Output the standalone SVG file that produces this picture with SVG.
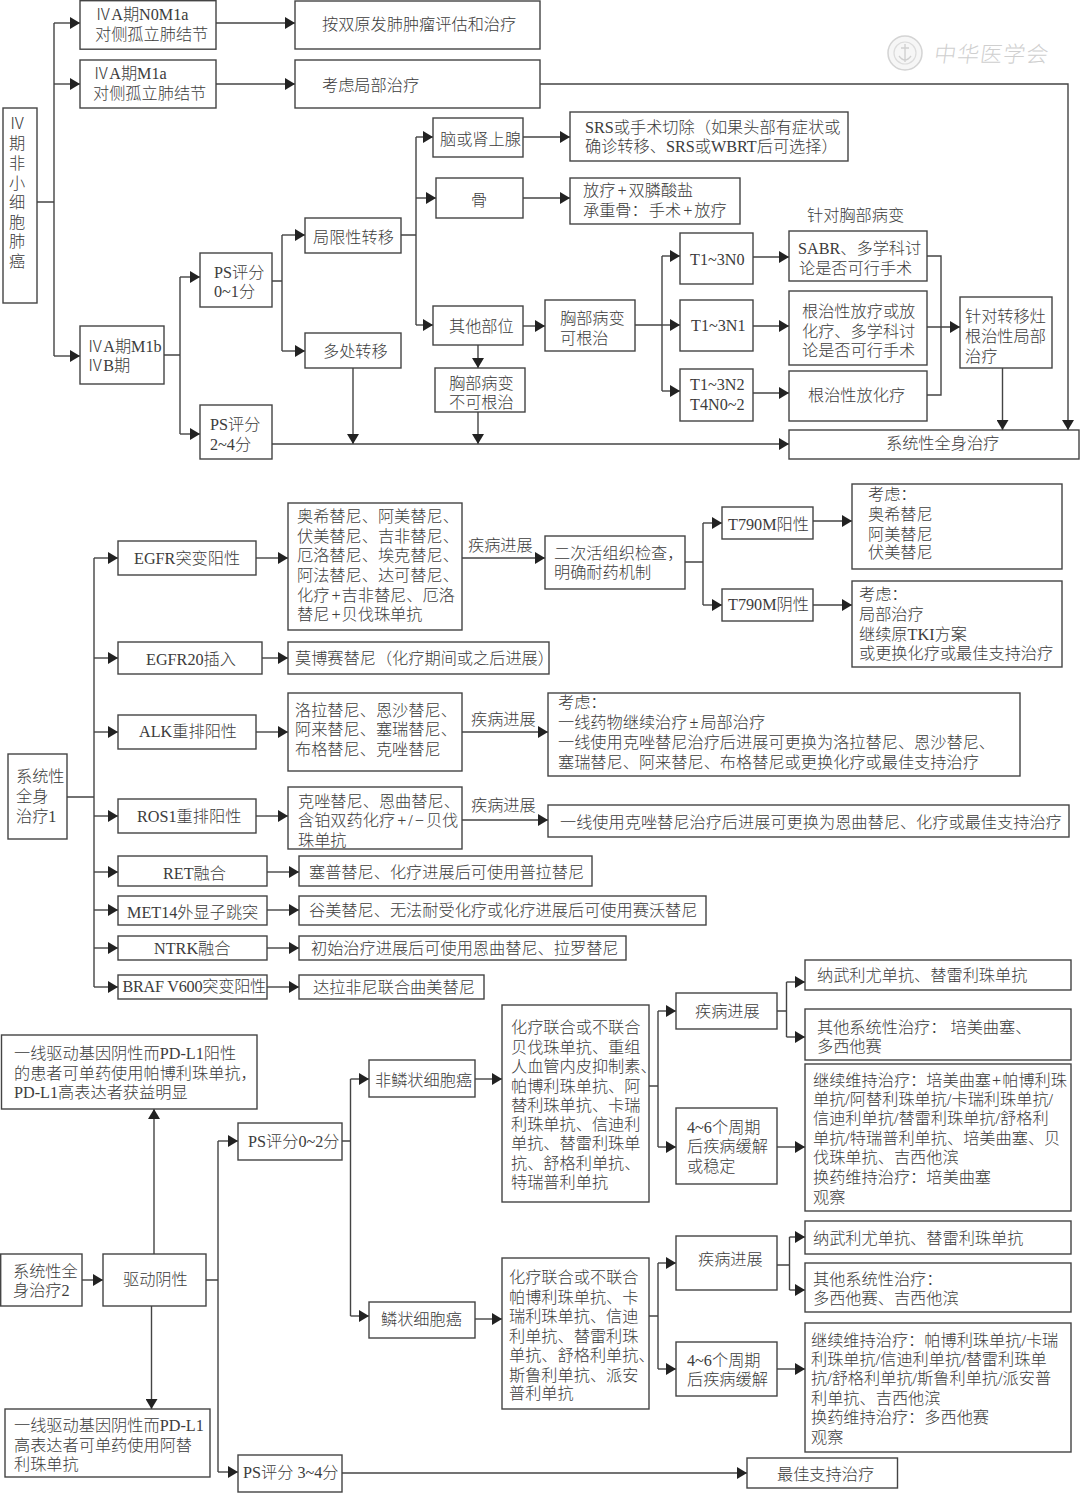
<svg xmlns="http://www.w3.org/2000/svg" width="1080" height="1493" viewBox="0 0 1080 1493">
<style>
.b{fill:#fff;stroke:#444;stroke-width:1.4}
.t{font-family:"Liberation Serif","Noto Sans CJK SC",serif;font-size:16.2px;fill:#3c3c3c;font-weight:300}
.c{fill:none;stroke:#444;stroke-width:1.4}
.a{fill:none;stroke:#444;stroke-width:1.4;marker-end:url(#ah)}
.w{font-family:"Noto Sans CJK SC",sans-serif;font-size:22px;fill:#cfcfcf;font-weight:300;letter-spacing:1px}
</style>
<defs><marker id="ah" markerUnits="userSpaceOnUse" markerWidth="11" markerHeight="12" refX="10" refY="6" orient="auto"><path d="M0 0L10 6L0 12z" fill="#222"/></marker></defs>
<rect width="1080" height="1493" fill="#fff"/>
<g id="watermark"><circle cx="905" cy="53" r="17" fill="#f6f6f6" stroke="#d4d4d4" stroke-width="1.5"/><circle cx="905" cy="53" r="11" fill="none" stroke="#dcdcdc" stroke-width="1.2"/><path d="M905 44V62M899 56Q905 64 911 56M901 48H909" fill="none" stroke="#d0d0d0" stroke-width="1.4"/><text class="w" x="934" y="62" transform="skewX(-8) translate(8 0)">中华医学会</text></g>
<g id="connectors">
<path class="c" d="M37 202H54M54 23V356"/><path class="a" d="M54 23H80"/><path class="a" d="M54 84H80"/><path class="a" d="M54 356H80"/>
<path class="a" d="M216 23H295"/><path class="a" d="M216 84H295"/>
<path class="a" d="M540 84H1068V430"/>
<path class="c" d="M164 355H180M180 277V434"/><path class="a" d="M180 277H200"/><path class="a" d="M180 434H200"/>
<path class="c" d="M272 281H282M282 235V351"/><path class="a" d="M282 235H305"/><path class="a" d="M282 351H305"/>
<path class="c" d="M401 235H416M416 137V325"/><path class="a" d="M416 137H433"/><path class="a" d="M416 198H436"/><path class="a" d="M416 325H433"/>
<path class="a" d="M523 137H570"/><path class="a" d="M523 198H570"/><path class="a" d="M523 326H545"/>
<path class="a" d="M478 345V368"/><path class="a" d="M478 412V444"/><path class="a" d="M353 368V444"/>
<path class="a" d="M272 444H789"/>
<path class="c" d="M635 325H662M662 256V391"/><path class="a" d="M662 256H680"/><path class="a" d="M662 325H680"/><path class="a" d="M662 391H680"/>
<path class="a" d="M753 257H789"/><path class="a" d="M753 326H789"/><path class="a" d="M753 393H789"/>
<path class="c" d="M927 256H941V395H927"/><path class="a" d="M927 327H960"/>
<path class="a" d="M1002.500 368V430"/>
<path class="c" d="M67 797H94M94 558V987"/>
<path class="a" d="M94 558H118"/><path class="a" d="M94 658H118"/><path class="a" d="M94 732H118"/><path class="a" d="M94 816H118"/><path class="a" d="M94 872H118"/><path class="a" d="M94 910H118"/><path class="a" d="M94 948H118"/><path class="a" d="M94 987H118"/>
<path class="a" d="M256 558H288"/><path class="a" d="M262 658H288"/><path class="a" d="M256 732H288"/><path class="a" d="M256 816H288"/>
<path class="a" d="M267 872H299"/><path class="a" d="M267 910H299"/><path class="a" d="M267 948H299"/><path class="a" d="M267 987H299"/>
<path class="a" d="M462 558H545"/><path class="a" d="M462 732H548"/><path class="a" d="M462 820H548"/>
<path class="c" d="M685 562H703M703 523V605"/><path class="a" d="M703 523H722"/><path class="a" d="M703 605H722"/>
<path class="a" d="M813 521H852"/><path class="a" d="M813 605H852"/>
<path class="a" d="M82 1280H103"/><path class="a" d="M154 1254V1109"/><path class="a" d="M151.500 1306V1409"/>
<path class="c" d="M206 1280H218M218 1141V1472"/><path class="a" d="M218 1141H238"/><path class="a" d="M218 1472H238"/>
<path class="c" d="M342 1141H350.500M350.500 1079V1316"/><path class="a" d="M350.500 1079H369"/><path class="a" d="M350.500 1316H369"/>
<path class="a" d="M475 1079H502"/><path class="a" d="M475 1319H502"/>
<path class="c" d="M649 1086H658M658 1011V1147"/><path class="a" d="M658 1011H676"/><path class="a" d="M658 1147H676"/>
<path class="c" d="M777 1011H786.500M786.500 982V1037"/><path class="a" d="M786.500 982H805"/><path class="a" d="M786.500 1037H805"/>
<path class="a" d="M777 1147H805"/>
<path class="c" d="M649 1316H658M658 1263V1369"/><path class="a" d="M658 1263H676"/><path class="a" d="M658 1369H676"/>
<path class="c" d="M777 1265H789.500M789.500 1237V1290"/><path class="a" d="M789.500 1237H805"/><path class="a" d="M789.500 1290H805"/>
<path class="a" d="M777 1369H805"/>
<path class="a" d="M342 1473H747"/>
</g>
<g id="n01"><rect class="b" x="3" y="108" width="34" height="195"/><text class="t" text-anchor="middle"><tspan x="17" y="129">Ⅳ</tspan><tspan x="17" y="149">期</tspan><tspan x="17" y="169">非</tspan><tspan x="17" y="189">小</tspan><tspan x="17" y="208">细</tspan><tspan x="17" y="228">胞</tspan><tspan x="17" y="247">肺</tspan><tspan x="17" y="267">癌</tspan></text></g>
<g id="n02"><rect class="b" x="80" y="0.700" width="136" height="48.500"/><text class="t"><tspan x="95" y="20">ⅣA期N0M1a</tspan><tspan x="95" y="40">对侧孤立肺结节</tspan></text></g>
<g id="n03"><rect class="b" x="80" y="60" width="136" height="48"/><text class="t"><tspan x="93" y="79">ⅣA期M1a</tspan><tspan x="93" y="99">对侧孤立肺结节</tspan></text></g>
<g id="n04"><rect class="b" x="295" y="1" width="245" height="48"/><text class="t" x="322" y="30">按双原发肺肿瘤评估和治疗</text></g>
<g id="n05"><rect class="b" x="295" y="60" width="245" height="48"/><text class="t" x="322" y="91">考虑局部治疗</text></g>
<g id="n06"><rect class="b" x="80" y="326" width="84" height="58"/><text class="t"><tspan x="87" y="352">ⅣA期M1b</tspan><tspan x="87" y="371">ⅣB期</tspan></text></g>
<g id="n07"><rect class="b" x="200" y="253" width="72" height="54"/><text class="t"><tspan x="214" y="278">PS评分</tspan><tspan x="214" y="297">0~1分</tspan></text></g>
<g id="n08"><rect class="b" x="200" y="405" width="72" height="54"/><text class="t"><tspan x="210" y="430">PS评分</tspan><tspan x="210" y="450">2~4分</tspan></text></g>
<g id="n09"><rect class="b" x="305" y="218" width="96" height="35"/><text class="t" x="313" y="243">局限性转移</text></g>
<g id="n10"><rect class="b" x="305" y="333" width="96" height="35"/><text class="t" x="323" y="357">多处转移</text></g>
<g id="n11"><rect class="b" x="433" y="118" width="90" height="39"/><text class="t" x="440" y="145">脑或肾上腺</text></g>
<g id="n12"><rect class="b" x="436" y="178" width="87" height="40"/><text class="t" x="471" y="206">骨</text></g>
<g id="n13"><rect class="b" x="433" y="306" width="90" height="39"/><text class="t" x="449" y="332">其他部位</text></g>
<g id="n14"><rect class="b" x="435" y="368" width="90" height="44"/><text class="t"><tspan x="449" y="389">胸部病变</tspan><tspan x="449" y="408">不可根治</tspan></text></g>
<g id="n15"><rect class="b" x="570" y="112" width="278" height="49"/><text class="t"><tspan x="585" y="133">SRS或手术切除（如果头部有症状或</tspan><tspan x="585" y="152">确诊转移、SRS或WBRT后可选择）</tspan></text></g>
<g id="n16"><rect class="b" x="570" y="178" width="170" height="46"/><text class="t"><tspan x="583" y="196">放疗<tspan dx="2">+</tspan><tspan dx="2">双膦酸盐</tspan></tspan><tspan x="583" y="216">承重骨：<tspan dx="1">手术</tspan><tspan dx="2">+</tspan><tspan dx="2">放疗</tspan></tspan></text></g>
<g id="n17"><text class="t" x="807" y="221">针对胸部病变</text></g>
<g id="n18"><rect class="b" x="545" y="300" width="90" height="51"/><text class="t"><tspan x="560" y="324">胸部病变</tspan><tspan x="560" y="344">可根治</tspan></text></g>
<g id="n19"><rect class="b" x="680" y="233" width="73" height="51"/><text class="t" x="690" y="265">T1~3N0</text></g>
<g id="n20"><rect class="b" x="680" y="300" width="73" height="51"/><text class="t" x="691" y="331">T1~3N1</text></g>
<g id="n21"><rect class="b" x="680" y="369" width="73" height="52"/><text class="t"><tspan x="690" y="390">T1~3N2</tspan><tspan x="690" y="410">T4N0~2</tspan></text></g>
<g id="n22"><rect class="b" x="789" y="231" width="138" height="50"/><text class="t"><tspan x="798" y="254">SABR、多学科讨</tspan><tspan x="799" y="274">论是否可行手术</tspan></text></g>
<g id="n23"><rect class="b" x="789" y="291" width="138" height="74"/><text class="t"><tspan x="802" y="317">根治性放疗或放</tspan><tspan x="802" y="337">化疗、多学科讨</tspan><tspan x="802" y="356">论是否可行手术</tspan></text></g>
<g id="n24"><rect class="b" x="789" y="371" width="138" height="50"/><text class="t" x="808" y="401">根治性放化疗</text></g>
<g id="n25"><rect class="b" x="960" y="297" width="92" height="71"/><text class="t"><tspan x="965" y="322">针对转移灶</tspan><tspan x="965" y="342">根治性局部</tspan><tspan x="965" y="362">治疗</tspan></text></g>
<g id="n26"><rect class="b" x="789" y="430" width="290" height="29"/><text class="t" x="886" y="449">系统性全身治疗</text></g>
<g id="n27"><rect class="b" x="8" y="754" width="59" height="85"/><text class="t"><tspan x="16" y="782">系统性</tspan><tspan x="16" y="802">全身</tspan><tspan x="16" y="822">治疗1</tspan></text></g>
<g id="n28"><rect class="b" x="118" y="541" width="138" height="34"/><text class="t" x="134" y="564">EGFR突变阳性</text></g>
<g id="n29"><rect class="b" x="288" y="503" width="174" height="127"/><text class="t"><tspan x="297" y="522">奥希替尼、阿美替尼、</tspan><tspan x="297" y="542">伏美替尼、吉非替尼、</tspan><tspan x="297" y="561">厄洛替尼、埃克替尼、</tspan><tspan x="297" y="581">阿法替尼、达可替尼、</tspan><tspan x="297" y="601">化疗<tspan dx="2">+</tspan><tspan dx="1">吉非替尼、厄洛</tspan></tspan><tspan x="297" y="620">替尼<tspan dx="2">+</tspan><tspan dx="1">贝伐珠单抗</tspan></tspan></text></g>
<g id="n30"><text class="t" x="468" y="551">疾病进展</text></g>
<g id="n31"><rect class="b" x="545" y="536" width="140" height="53"/><text class="t"><tspan x="554" y="559">二次活组织检查，</tspan><tspan x="554" y="578">明确耐药机制</tspan></text></g>
<g id="n32"><rect class="b" x="722" y="507" width="91" height="32"/><text class="t" x="728" y="530">T790M阳性</text></g>
<g id="n33"><rect class="b" x="722" y="589" width="91" height="32"/><text class="t" x="728" y="610">T790M阴性</text></g>
<g id="n34"><rect class="b" x="852" y="484" width="210" height="85"/><text class="t"><tspan x="868" y="500">考虑：</tspan><tspan x="868" y="520">奥希替尼</tspan><tspan x="868" y="540">阿美替尼</tspan><tspan x="868" y="558">伏美替尼</tspan></text></g>
<g id="n35"><rect class="b" x="852" y="581" width="210" height="86"/><text class="t"><tspan x="859" y="600">考虑：</tspan><tspan x="859" y="620">局部治疗</tspan><tspan x="859" y="640">继续原TKI方案</tspan><tspan x="859" y="659">或更换化疗或最佳支持治疗</tspan></text></g>
<g id="n36"><rect class="b" x="118" y="642" width="144" height="32"/><text class="t" x="146" y="665">EGFR20插入</text></g>
<g id="n37"><rect class="b" x="288" y="642" width="261" height="32"/><text class="t" x="295" y="664">莫博赛替尼（化疗期间或之后进展）</text></g>
<g id="n38"><rect class="b" x="118" y="715" width="138" height="34"/><text class="t" x="139" y="737">ALK重排阳性</text></g>
<g id="n39"><rect class="b" x="288" y="693" width="174" height="78"/><text class="t"><tspan x="295" y="716">洛拉替尼、恩沙替尼、</tspan><tspan x="295" y="735">阿来替尼、塞瑞替尼、</tspan><tspan x="295" y="755">布格替尼、克唑替尼</tspan></text></g>
<g id="n40"><text class="t" x="471" y="725">疾病进展</text></g>
<g id="n41"><rect class="b" x="548" y="693" width="472" height="83"/><text class="t"><tspan x="558" y="708">考虑：</tspan><tspan x="558" y="728">一线药物继续治疗<tspan dx="2">±</tspan><tspan dx="2">局部治疗</tspan></tspan><tspan x="558" y="748">一线使用克唑替尼治疗后进展可更换为洛拉替尼、恩沙替尼、</tspan><tspan x="558" y="768">塞瑞替尼、阿来替尼、布格替尼或更换化疗或最佳支持治疗</tspan></text></g>
<g id="n42"><rect class="b" x="118" y="799" width="138" height="34"/><text class="t" x="137" y="822">ROS1重排阳性</text></g>
<g id="n43"><rect class="b" x="288" y="787" width="174" height="62"/><text class="t"><tspan x="298" y="807">克唑替尼、恩曲替尼、</tspan><tspan x="298" y="826">含铂双药化疗<tspan dx="2">+</tspan><tspan dx="2">/</tspan><tspan dx="2">−</tspan><tspan dx="2">贝伐</tspan></tspan><tspan x="298" y="846">珠单抗</tspan></text></g>
<g id="n44"><text class="t" x="471" y="811">疾病进展</text></g>
<g id="n45"><rect class="b" x="548" y="805" width="521" height="32"/><text class="t" x="560" y="828">一线使用克唑替尼治疗后进展可更换为恩曲替尼、化疗或最佳支持治疗</text></g>
<g id="n46"><rect class="b" x="118" y="856" width="149" height="30"/><text class="t" x="163" y="879">RET融合</text></g>
<g id="n47"><rect class="b" x="299" y="856" width="293" height="30"/><text class="t" x="309" y="878">塞普替尼、化疗进展后可使用普拉替尼</text></g>
<g id="n48"><rect class="b" x="118" y="896" width="149" height="29"/><text class="t" x="127" y="918">MET14外显子跳突</text></g>
<g id="n49"><rect class="b" x="299" y="896" width="407" height="29"/><text class="t" x="309" y="916">谷美替尼、无法耐受化疗或化疗进展后可使用赛沃替尼</text></g>
<g id="n50"><rect class="b" x="118" y="936" width="149" height="24"/><text class="t" x="154" y="954">NTRK融合</text></g>
<g id="n51"><rect class="b" x="299" y="936" width="327" height="24"/><text class="t" x="311" y="954">初始治疗进展后可使用恩曲替尼、拉罗替尼</text></g>
<g id="n52"><rect class="b" x="118" y="975" width="149" height="24"/><text class="t" x="122.500" y="992" style="letter-spacing:-.25px">BRAF V600突变阳性</text></g>
<g id="n53"><rect class="b" x="299" y="975" width="185" height="24"/><text class="t" x="313" y="993">达拉非尼联合曲美替尼</text></g>
<g id="n54"><rect class="b" x="1.500" y="1035" width="255.500" height="74"/><text class="t"><tspan x="14" y="1059">一线驱动基因阴性而PD-L1阳性</tspan><tspan x="14" y="1079">的患者可单药使用帕博利珠单抗，</tspan><tspan x="14" y="1098">PD-L1高表达者获益明显</tspan></text></g>
<g id="n55"><rect class="b" x="0.700" y="1254" width="81.300" height="52"/><text class="t"><tspan x="13" y="1277">系统性全</tspan><tspan x="13" y="1296">身治疗2</tspan></text></g>
<g id="n56"><rect class="b" x="103" y="1254" width="103" height="52"/><text class="t" x="123" y="1285">驱动阴性</text></g>
<g id="n57"><rect class="b" x="5" y="1409" width="205" height="68"/><text class="t"><tspan x="14" y="1431">一线驱动基因阴性而PD-L1</tspan><tspan x="14" y="1451">高表达者可单药使用阿替</tspan><tspan x="14" y="1470">利珠单抗</tspan></text></g>
<g id="n58"><rect class="b" x="238" y="1123" width="104" height="37"/><text class="t" x="248" y="1147">PS评分0~2分</text></g>
<g id="n59"><rect class="b" x="238" y="1455" width="104" height="37"/><text class="t" x="243" y="1478">PS评分 3~4分</text></g>
<g id="n60"><rect class="b" x="369" y="1060" width="106" height="37"/><text class="t" x="375" y="1086">非鳞状细胞癌</text></g>
<g id="n61"><rect class="b" x="369" y="1302" width="106" height="36"/><text class="t" x="381" y="1325">鳞状细胞癌</text></g>
<g id="n62"><rect class="b" x="502" y="1005" width="147" height="197"/><text class="t"><tspan x="511" y="1033">化疗联合或不联合</tspan><tspan x="511" y="1053">贝伐珠单抗、重组</tspan><tspan x="511" y="1072">人血管内皮抑制素、</tspan><tspan x="511" y="1092">帕博利珠单抗、阿</tspan><tspan x="511" y="1111">替利珠单抗、卡瑞</tspan><tspan x="511" y="1130">利珠单抗、信迪利</tspan><tspan x="511" y="1149">单抗、替雷利珠单</tspan><tspan x="511" y="1169">抗、舒格利单抗、</tspan><tspan x="511" y="1188">特瑞普利单抗</tspan></text></g>
<g id="n63"><rect class="b" x="676" y="993" width="101" height="36"/><text class="t" x="695" y="1017">疾病进展</text></g>
<g id="n64"><rect class="b" x="676" y="1108" width="101" height="76"/><text class="t"><tspan x="687" y="1133">4~6个周期</tspan><tspan x="687" y="1152">后疾病缓解</tspan><tspan x="687" y="1172">或稳定</tspan></text></g>
<g id="n65"><rect class="b" x="805" y="960" width="266" height="30"/><text class="t" x="817" y="981">纳武利尤单抗、替雷利珠单抗</text></g>
<g id="n66"><rect class="b" x="805" y="1009" width="266" height="51"/><text class="t"><tspan x="817" y="1033">其他系统性治疗：<tspan dx="4">培美曲塞、</tspan></tspan><tspan x="817" y="1052">多西他赛</tspan></text></g>
<g id="n67"><rect class="b" x="805" y="1064" width="266" height="147"/><text class="t"><tspan x="813" y="1086">继续维持治疗：培美曲塞<tspan dx="1">+</tspan><tspan dx="1">帕博利珠</tspan></tspan><tspan x="813" y="1105">单抗/阿替利珠单抗/卡瑞利珠单抗/</tspan><tspan x="813" y="1124">信迪利单抗/替雷利珠单抗/舒格利</tspan><tspan x="813" y="1144">单抗/特瑞普利单抗、培美曲塞、贝</tspan><tspan x="813" y="1163">伐珠单抗、吉西他滨</tspan><tspan x="813" y="1183">换药维持治疗：培美曲塞</tspan><tspan x="813" y="1203">观察</tspan></text></g>
<g id="n68"><rect class="b" x="502" y="1258" width="147" height="151"/><text class="t"><tspan x="509" y="1283">化疗联合或不联合</tspan><tspan x="509" y="1303">帕博利珠单抗、卡</tspan><tspan x="509" y="1322">瑞利珠单抗、信迪</tspan><tspan x="509" y="1342">利单抗、替雷利珠</tspan><tspan x="509" y="1361">单抗、舒格利单抗、</tspan><tspan x="509" y="1381">斯鲁利单抗、派安</tspan><tspan x="509" y="1399">普利单抗</tspan></text></g>
<g id="n69"><rect class="b" x="676" y="1236" width="101" height="54"/><text class="t" x="698" y="1265">疾病进展</text></g>
<g id="n70"><rect class="b" x="676" y="1342" width="101" height="54"/><text class="t"><tspan x="687" y="1366">4~6个周期</tspan><tspan x="687" y="1385">后疾病缓解</tspan></text></g>
<g id="n71"><rect class="b" x="805" y="1221" width="266" height="33"/><text class="t" x="813" y="1244">纳武利尤单抗、替雷利珠单抗</text></g>
<g id="n72"><rect class="b" x="805" y="1263" width="266" height="49"/><text class="t"><tspan x="813" y="1285">其他系统性治疗：</tspan><tspan x="813" y="1304">多西他赛、吉西他滨</tspan></text></g>
<g id="n73"><rect class="b" x="805" y="1323" width="266" height="129"/><text class="t"><tspan x="811" y="1346">继续维持治疗：帕博利珠单抗/卡瑞</tspan><tspan x="811" y="1365">利珠单抗/信迪利单抗/替雷利珠单</tspan><tspan x="811" y="1384">抗/舒格利单抗/斯鲁利单抗/派安普</tspan><tspan x="811" y="1404">利单抗、吉西他滨</tspan><tspan x="811" y="1423">换药维持治疗：多西他赛</tspan><tspan x="811" y="1443">观察</tspan></text></g>
<g id="n74"><rect class="b" x="747" y="1458" width="150.500" height="30"/><text class="t" x="777" y="1480">最佳支持治疗</text></g>
</svg>
